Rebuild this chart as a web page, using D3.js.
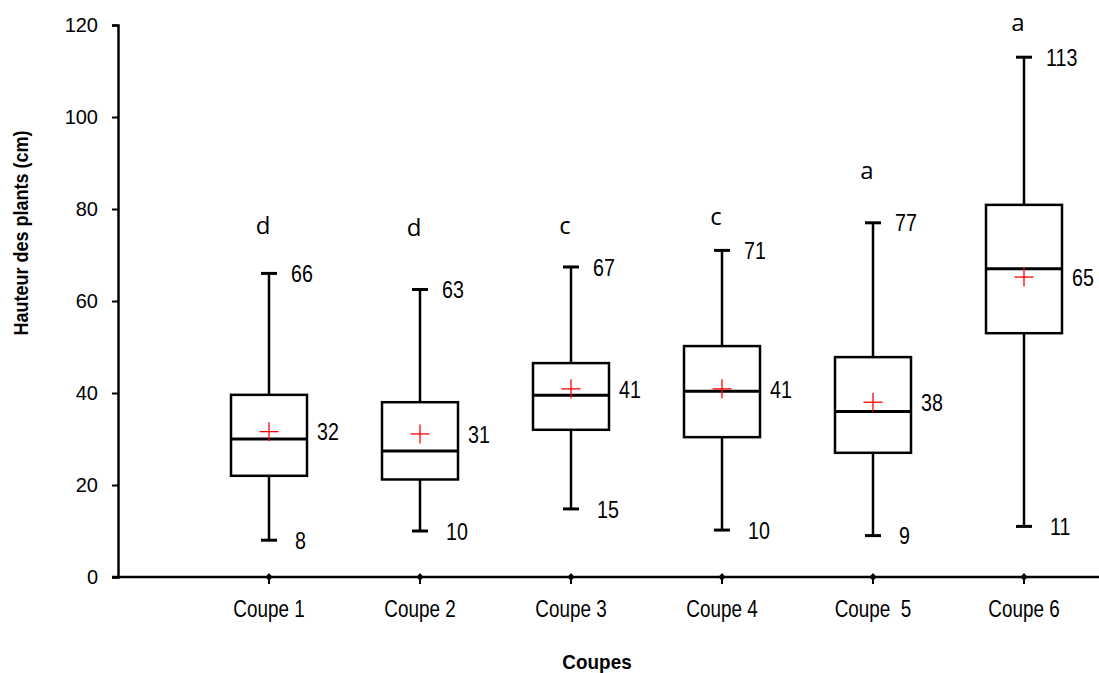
<!DOCTYPE html>
<html>
<head>
<meta charset="utf-8">
<script src="https://cdn.jsdelivr.net/npm/d3@7"></script>
<style>
  body { margin: 0; background: #fff; }
  text { font-family: "Liberation Sans", Arial, sans-serif; }
</style>
</head>
<body>
<svg id="chart" width="1099" height="673"></svg>
<script>
const categories = ["Coupe 1", "Coupe 2", "Coupe 3", "Coupe 4", "Coupe  5", "Coupe 6"];
const mins    = [8, 10, 14.8, 10.2, 9, 11];
const q1s     = [22, 21.2, 32, 30.4, 27, 53];
const medians = [30, 27.4, 39.5, 40.4, 36, 67];
const q3s     = [39.6, 38, 46.5, 50.2, 47.8, 80.9];
const maxs    = [66, 62.5, 67.4, 71, 77, 113];
const means   = [31.6, 31.1, 40.9, 40.9, 38, 65.2];
const maxLabels  = ["66", "63", "67", "71", "77", "113"];
const meanLabels = ["32", "31", "41", "41", "38", "65"];
const minLabels  = ["8", "10", "15", "10", "9", "11"];
const letters    = ["d", "d", "c", "c", "a", "a"];
const letterLevels = [76.5, 76, 76.5, 78.3, 88.5, 120.5];
const yTicks = [0, 20, 40, 60, 80, 100, 120];

const data = categories.map((c, i) => ({
  cat: c, min: mins[i], q1: q1s[i], med: medians[i], q3: q3s[i], max: maxs[i], mean: means[i],
  maxL: maxLabels[i], meanL: meanLabels[i], minL: minLabels[i], letter: letters[i], lv: letterLevels[i]
}));

const svg = d3.select("#chart");
const width = 1099;
const axisX = 118;
const narrow = 0.82; // the original text looks condensed

const y = d3.scaleLinear().domain([0, 120]).range([577, 25]);
const x = d3.scaleBand().domain(categories).range([axisX + 75.5, axisX + 75.5 + 151 * 6]);
const cx = d => x(d.cat) + x.bandwidth() / 2;

const boxW = 76, capW = 16;

// y axis
const yAxis = svg.append("g")
  .attr("transform", `translate(${axisX},0)`)
  .call(d3.axisLeft(y).tickValues(yTicks).tickSize(6).tickPadding(14));
yAxis.select(".domain").attr("stroke", "#000").attr("stroke-width", 2.5);
yAxis.selectAll(".tick line").attr("stroke", "#000").attr("stroke-width", 2);
yAxis.selectAll(".tick text")
  .attr("font-size", 20).attr("fill", "#000")
  .style("font-family", "'Liberation Sans', Arial, sans-serif");

// x axis line
svg.append("line")
  .attr("x1", axisX - 6).attr("x2", width)
  .attr("y1", y(0)).attr("y2", y(0))
  .attr("stroke", "#000").attr("stroke-width", 2.5);

// x ticks (diamond markers)
svg.selectAll("path.xtick")
  .data(data)
  .join("path")
  .attr("class", "xtick")
  .attr("d", d => `M${cx(d)},${y(0) - 4} L${cx(d) + 3.5},${y(0)} L${cx(d)},${y(0) + 4} L${cx(d) - 3.5},${y(0)} Z`)
  .attr("fill", "#000");
svg.selectAll("line.xtick")
  .data(data)
  .join("line")
  .attr("class", "xtick")
  .attr("x1", cx).attr("x2", cx)
  .attr("y1", y(0)).attr("y2", y(0) + 7)
  .attr("stroke", "#000").attr("stroke-width", 2);

svg.selectAll("text.xlabel")
  .data(data)
  .join("text")
  .attr("class", "xlabel")
  .attr("transform", d => `translate(${cx(d)},617) scale(${narrow},1)`)
  .attr("text-anchor", "middle")
  .attr("font-size", 23)
  .style("white-space", "pre")
  .text(d => d.cat);

// whiskers
svg.selectAll("line.whisker")
  .data(data)
  .join("line")
  .attr("class", "whisker")
  .attr("x1", cx).attr("x2", cx)
  .attr("y1", d => y(d.max)).attr("y2", d => y(d.min))
  .attr("stroke", "#000").attr("stroke-width", 2.5);

svg.selectAll("line.capTop")
  .data(data)
  .join("line")
  .attr("class", "capTop")
  .attr("x1", d => cx(d) - capW / 2).attr("x2", d => cx(d) + capW / 2)
  .attr("y1", d => y(d.max)).attr("y2", d => y(d.max))
  .attr("stroke", "#000").attr("stroke-width", 3);

svg.selectAll("line.capBottom")
  .data(data)
  .join("line")
  .attr("class", "capBottom")
  .attr("x1", d => cx(d) - capW / 2).attr("x2", d => cx(d) + capW / 2)
  .attr("y1", d => y(d.min)).attr("y2", d => y(d.min))
  .attr("stroke", "#000").attr("stroke-width", 3);

// boxes
svg.selectAll("rect.box")
  .data(data)
  .join("rect")
  .attr("class", "box")
  .attr("x", d => cx(d) - boxW / 2)
  .attr("y", d => y(d.q3))
  .attr("width", boxW)
  .attr("height", d => y(d.q1) - y(d.q3))
  .attr("fill", "#fff")
  .attr("stroke", "#000")
  .attr("stroke-width", 2.5);

svg.selectAll("line.median")
  .data(data)
  .join("line")
  .attr("class", "median")
  .attr("x1", d => cx(d) - boxW / 2).attr("x2", d => cx(d) + boxW / 2)
  .attr("y1", d => y(d.med)).attr("y2", d => y(d.med))
  .attr("stroke", "#000").attr("stroke-width", 3);

// mean crosses
const cross = svg.selectAll("g.mean")
  .data(data)
  .join("g")
  .attr("class", "mean")
  .attr("transform", d => `translate(${cx(d)},${y(d.mean)})`);
cross.append("line").attr("x1", -9.5).attr("x2", 9.5).attr("stroke", "#ff0000").attr("stroke-width", 1.3);
cross.append("line").attr("y1", -9.5).attr("y2", 9.5).attr("stroke", "#ff0000").attr("stroke-width", 1.3);

// value labels
function valueLabels(cls, dx, level, key) {
  svg.selectAll("text." + cls)
    .data(data)
    .join("text")
    .attr("class", cls)
    .attr("transform", d => `translate(${cx(d) + dx},${y(d[level])}) scale(${narrow},1)`)
    .attr("dy", "0.36em")
    .attr("font-size", 24)
    .text(d => d[key]);
}
valueLabels("maxL", 22, "max", "maxL");
valueLabels("meanL", 48, "mean", "meanL");
valueLabels("minL", 26, "min", "minL");

// significance letters
svg.selectAll("text.letter")
  .data(data)
  .join("text")
  .attr("class", "letter")
  .attr("x", d => cx(d) - 6)
  .attr("y", d => y(d.lv))
  .attr("dy", "0.36em")
  .attr("text-anchor", "middle")
  .attr("font-size", 24)
  .style("font-family", "'Open Sans', 'DejaVu Sans', sans-serif")
  .text(d => d.letter);

// axis titles
svg.append("text")
  .attr("transform", "translate(597,669) scale(0.9,1)")
  .attr("text-anchor", "middle")
  .attr("font-size", 21)
  .attr("font-weight", "bold")
  .text("Coupes");

svg.append("text")
  .attr("transform", "translate(28,233) rotate(-90) scale(0.9,1)")
  .attr("text-anchor", "middle")
  .attr("font-size", 20)
  .attr("font-weight", "bold")
  .text("Hauteur des plants (cm)");
</script>
</body>
</html>
